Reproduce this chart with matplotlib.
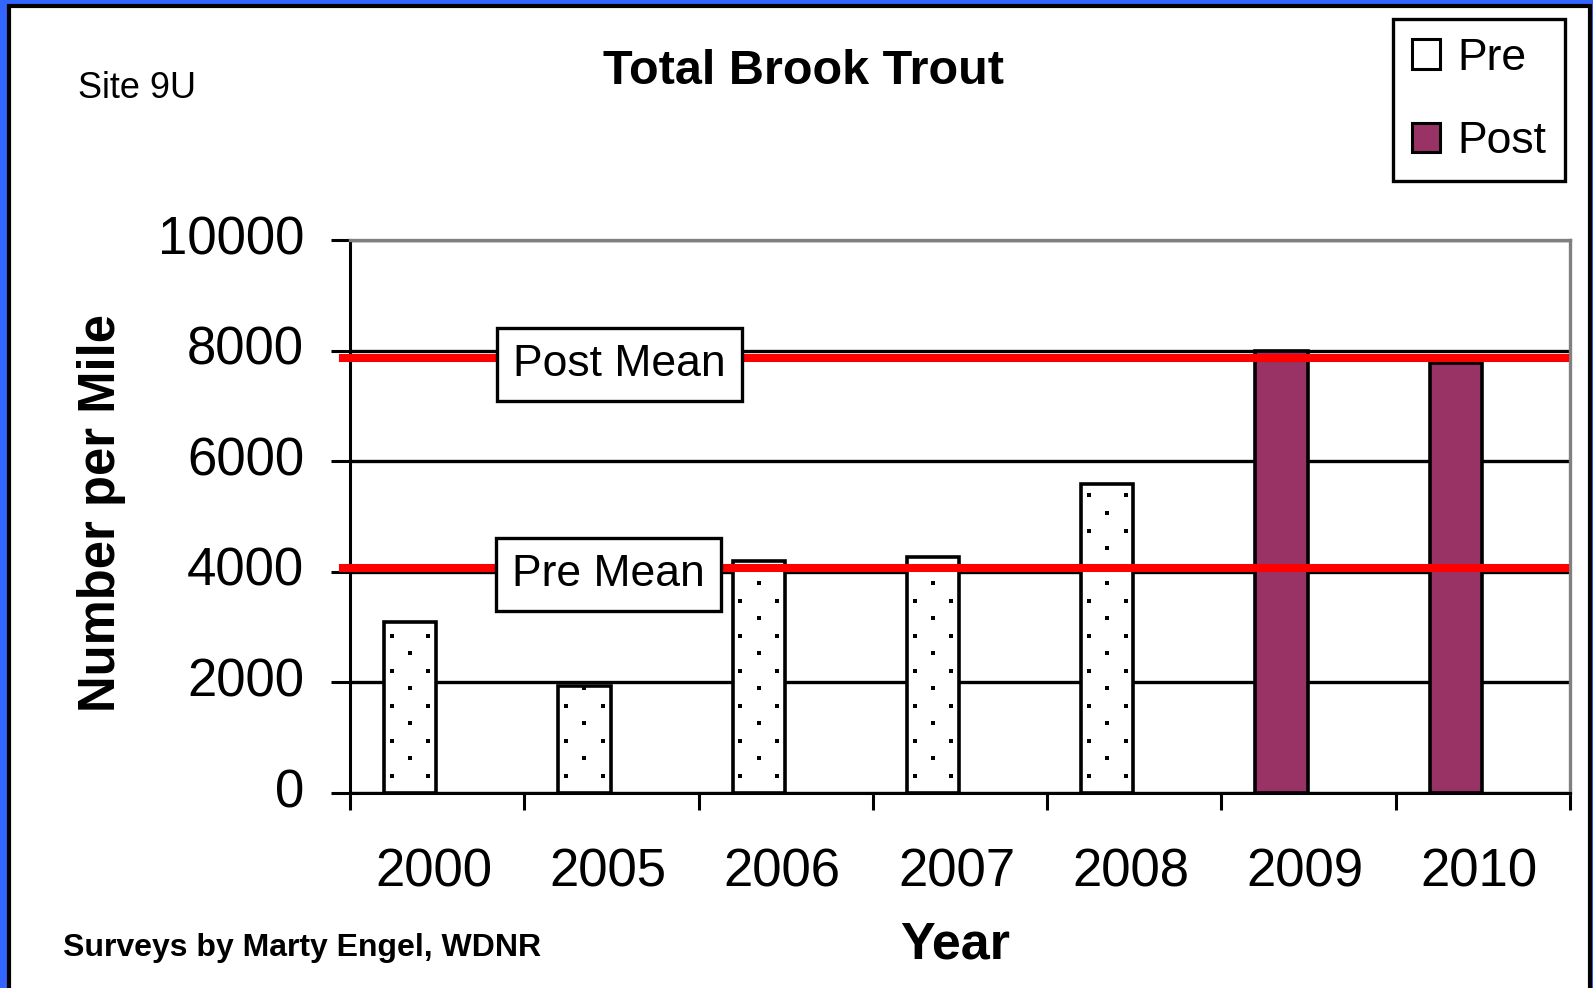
import matplotlib
matplotlib.use('Agg')
import matplotlib.pyplot as plt
from matplotlib.patches import Rectangle, Patch
import numpy as np

plt.rcParams['font.family'] = ['Liberation Sans', 'DejaVu Sans']

# brook trout per mile, site 9U
years = ['2000', '2005', '2006', '2007', '2008', '2009', '2010']
pre_years = ['2000', '2005', '2006', '2007', '2008']
pre_counts = [3100, 1930, 4190, 4270, 5580]
post_years = ['2009', '2010']
post_counts = [8000, 7780]
pre_mean = 4070
post_mean = 7875

purple = '#993366'

fig = plt.figure(figsize=(15.93, 9.88), dpi=100, facecolor='#3366ff')
# white slide panel with black edge, behind everything
fig.patches.append(Rectangle((9 / 1593, -0.1), (1589.5 - 9) / 1593, 1.1 - 6.5 / 988,
                             transform=fig.transFigure, fc='white', ec='black', lw=3,
                             zorder=-10))

ax = fig.add_axes([350 / 1593, 1 - 793 / 988, 1220 / 1593, 553 / 988])
ax.set_facecolor('white')

x = np.arange(len(years))
pre_x = np.array([years.index(y) for y in pre_years]) - 0.155
post_x = np.array([years.index(y) for y in post_years]) - 0.155
width = 0.30

ax.bar(pre_x, pre_counts, width, color='white', edgecolor='black', lw=2.6, zorder=3)
ax.bar(post_x, post_counts, width, color=purple, edgecolor='black', lw=2.6, zorder=3)

# sparse dot fill on the pre bars (staggered rows)
dot_step = 10000 * 17.5 / 553
for bx, h in zip(pre_x, pre_counts):
    rows = np.arange(dot_step, h + dot_step * 0.15, dot_step)
    dx, dy = [], []
    for k, ry in enumerate(rows):
        cols = [bx - 0.35 * width, bx + 0.35 * width] if k % 2 == 0 else [bx]
        dx += cols
        dy += [ry] * len(cols)
    ax.scatter(dx, dy, s=10, marker='s', color='black', lw=0, zorder=3.5)

# mean lines
ax.axhline(pre_mean, xmin=-0.006, xmax=0.996, color='red', lw=5.8, zorder=4, clip_on=False)
ax.axhline(post_mean, xmin=-0.006, xmax=0.996, color='red', lw=5.8, zorder=4, clip_on=False)
box = dict(boxstyle='square,pad=0.36', fc='white', ec='black', lw=2.4)
ax.text(1.045, 7745, 'Post Mean', fontsize=32, ha='center', va='center', bbox=box, zorder=5)
ax.text(0.985, 3955, 'Pre Mean', fontsize=32, ha='center', va='center', bbox=box, zorder=5)

ax.set_xlim(-0.5, len(years) - 0.5)
ax.set_ylim(0, 10000)
ax.yaxis.grid(True, color='black', lw=2.4)
ax.set_axisbelow(True)

ax.set_xticks(np.arange(-0.5, len(years), 1))
ax.set_xticklabels([])
ax.set_xticks(x - 0.02, minor=True)
ax.set_xticklabels(years, minor=True, fontsize=38)
ax.tick_params(axis='x', which='major', length=12, width=2.2, direction='out')
ax.tick_params(axis='x', which='minor', length=0, pad=39)
ax.set_yticks(np.arange(0, 10001, 2000))
ax.tick_params(axis='y', length=14, width=2.2, pad=19, labelsize=38)
for lbl in ax.get_yticklabels():
    lbl.set_va('center')

for side in ['left', 'bottom']:
    ax.spines[side].set_color('black')
    ax.spines[side].set_linewidth(2.2)
for side in ['top', 'right']:
    ax.spines[side].set_color('#808080')
    ax.spines[side].set_linewidth(2.4)

ax.set_xlabel('Year', fontsize=37.5, fontweight='bold', va='center')
ax.xaxis.set_label_coords(0.496, -0.275)
ax.set_ylabel('Number per Mile', fontsize=36.5, fontweight='bold', va='center', ha='center')
ax.yaxis.set_label_coords(-0.204, 0.506)

handles = [Patch(fc='white', ec='black', lw=2.2, label='Pre'),
           Patch(fc=purple, ec='black', lw=2.2, label='Post')]
leg = fig.legend(handles=handles, loc='upper right', bbox_to_anchor=(1565 / 1593, 1 - 19 / 988),
                 bbox_transform=fig.transFigure, borderaxespad=0, fontsize=32, fancybox=False,
                 framealpha=1, edgecolor='black', handlelength=0.63, handleheight=0.63,
                 handletextpad=0.4, borderpad=0.42, labelspacing=0.95)
leg.get_frame().set_linewidth(2.4)

fig.text(803 / 1593, 1 - 72 / 988, 'Total Brook Trout', fontsize=35, fontweight='bold',
         ha='center', va='center')
fig.text(78 / 1593, 1 - 88 / 988, 'Site 9U', fontsize=26, va='center')
fig.text(63 / 1593, 1 - 948 / 988, 'Surveys by Marty Engel, WDNR', fontsize=23,
         fontweight='bold', va='center')

fig.savefig('out.png', dpi=100, facecolor=fig.get_facecolor())
